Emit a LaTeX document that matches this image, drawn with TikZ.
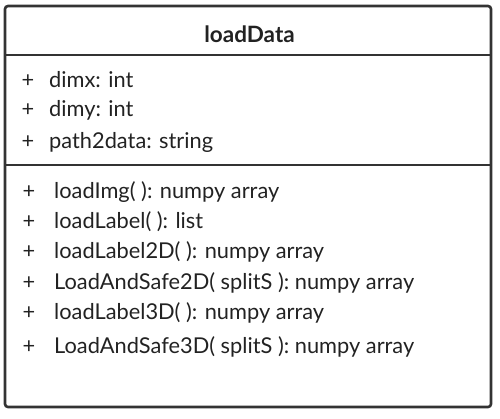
\documentclass[tikz,border=0pt]{standalone}
\usepackage{fontspec}
\setmainfont{Lato}
\definecolor{ink}{HTML}{333333}
\definecolor{txt}{HTML}{222222}
\begin{document}
\begin{tikzpicture}[x=1bp,y=-1bp,
  frame/.style={draw=ink,line width=2.6bp},
  member/.style={anchor=base west,inner sep=0pt,text=txt,font=\fontsize{21.8bp}{24bp}\selectfont},
  plus/.style={anchor=base,inner sep=0pt,text=txt,font=\fontsize{21.8bp}{24bp}\selectfont},
  title/.style={anchor=base,inner sep=0pt,text=txt,font=\bfseries\fontsize{22.5bp}{26bp}\selectfont}]
\useasboundingbox (0,0) rectangle (500,418);
\draw[frame,rounded corners=3bp] (5,6) rectangle (491,407);
\coordinate (s1l) at (5,55); \coordinate (s1r) at (491,55);
\coordinate (s2l) at (5,165); \coordinate (s2r) at (491,165);
\draw[frame] (s1l) -- (s1r);
\draw[frame] (s2l) -- (s2r);
\node[title] (t) at (249.5,42) {loadData};
\node[plus] (p1) at (28,87) {+};
\node[member] (a1) at (49,87) {dimx: int};
\node[plus] (p2) at (28,116) {+};
\node[member] (a2) at (49,116) {dimy: int};
\node[plus] (p3) at (28,148) {+};
\node[member] (a3) at (49,148) {path2data: string};
\node[plus] (q1) at (29,198) {+};
\node[member] (m1) at (54,198) {loadImg( ): numpy array};
\node[plus] (q2) at (29,228) {+};
\node[member] (m2) at (54,228) {loadLabel( ): list};
\node[plus] (q3) at (29,258) {+};
\node[member] (m3) at (54,258) {loadLabel2D( ): numpy array};
\node[plus] (q4) at (29,289) {+};
\node[member] (m4) at (54,289) {LoadAndSafe2D( splitS ): numpy array};
\node[plus] (q5) at (29,319) {+};
\node[member] (m5) at (54,319) {loadLabel3D( ): numpy array};
\node[plus] (q6) at (29,353) {+};
\node[member] (m6) at (54,353) {LoadAndSafe3D( splitS ): numpy array};
\end{tikzpicture}
\end{document}
